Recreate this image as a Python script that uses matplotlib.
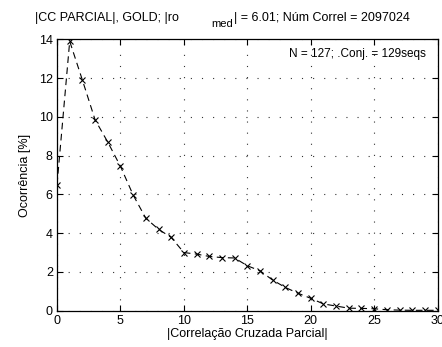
import numpy as np
import matplotlib
matplotlib.use("Agg")
import matplotlib.pyplot as plt

plt.rcParams['font.family'] = ['Liberation Sans', 'DejaVu Sans']

# |correlacao cruzada parcial| (bins) e ocorrencia em %
corr = np.arange(0, 31)
ocorrencia = [6.5, 13.9, 11.9, 9.85, 8.7, 7.45, 5.97, 4.77, 4.2, 3.78,
              3.0, 2.92, 2.8, 2.74, 2.72, 2.32, 2.06, 1.58, 1.2, 0.9,
              0.64, 0.35, 0.24, 0.13, 0.12, 0.1, 0.05, 0.03, 0.02, 0.02,
              0.02]
xticks = [0, 5, 10, 15, 20, 25, 30]
yticks = [0, 2, 4, 6, 8, 10, 12, 14]

fig = plt.figure(figsize=(4.42, 3.47), dpi=100)
ax = fig.add_axes([0.129, 0.1046, 0.861, 0.782])

ax.plot(corr, ocorrencia, color='k', linestyle=(0, (6, 4)), linewidth=0.8,
        marker='x', markersize=4.5, markeredgewidth=0.8)

ax.set_xlim(0, 30)
ax.set_ylim(0, 14)
ax.set_xticks(xticks)
ax.set_yticks(yticks)
ax.tick_params(direction='in', top=True, right=True, length=4, width=0.8,
               labelsize=9, pad=3)
for s in ax.spines.values():
    s.set_linewidth(0.9)
ax.grid(True, color='0.2', linestyle=(0, (1, 9)), linewidth=0.8)

ax.set_xlabel('|Correlação Cruzada Parcial|', fontsize=9, labelpad=1)
ax.set_ylabel('Ocorrência [%]', fontsize=9, labelpad=6)

ax.text(0.97, 0.945, 'N = 127; .Conj. = 129seqs', transform=ax.transAxes,
        ha='right', va='center', fontsize=8.5)

# titulo estilo MATLAB, com o subscrito deslocado
fig.text(35 / 442, 1 - 21.5 / 347, '|CC PARCIAL|, GOLD; |ro',
         fontsize=9, va='baseline', ha='left')
fig.text(211 / 442, 1 - 27 / 347, 'med', fontsize=8, va='baseline', ha='left')
fig.text(234 / 442, 1 - 21.5 / 347, '| = 6.01; Núm Correl = 2097024',
         fontsize=9, va='baseline', ha='left')

fig.savefig('out.png', dpi=100)
